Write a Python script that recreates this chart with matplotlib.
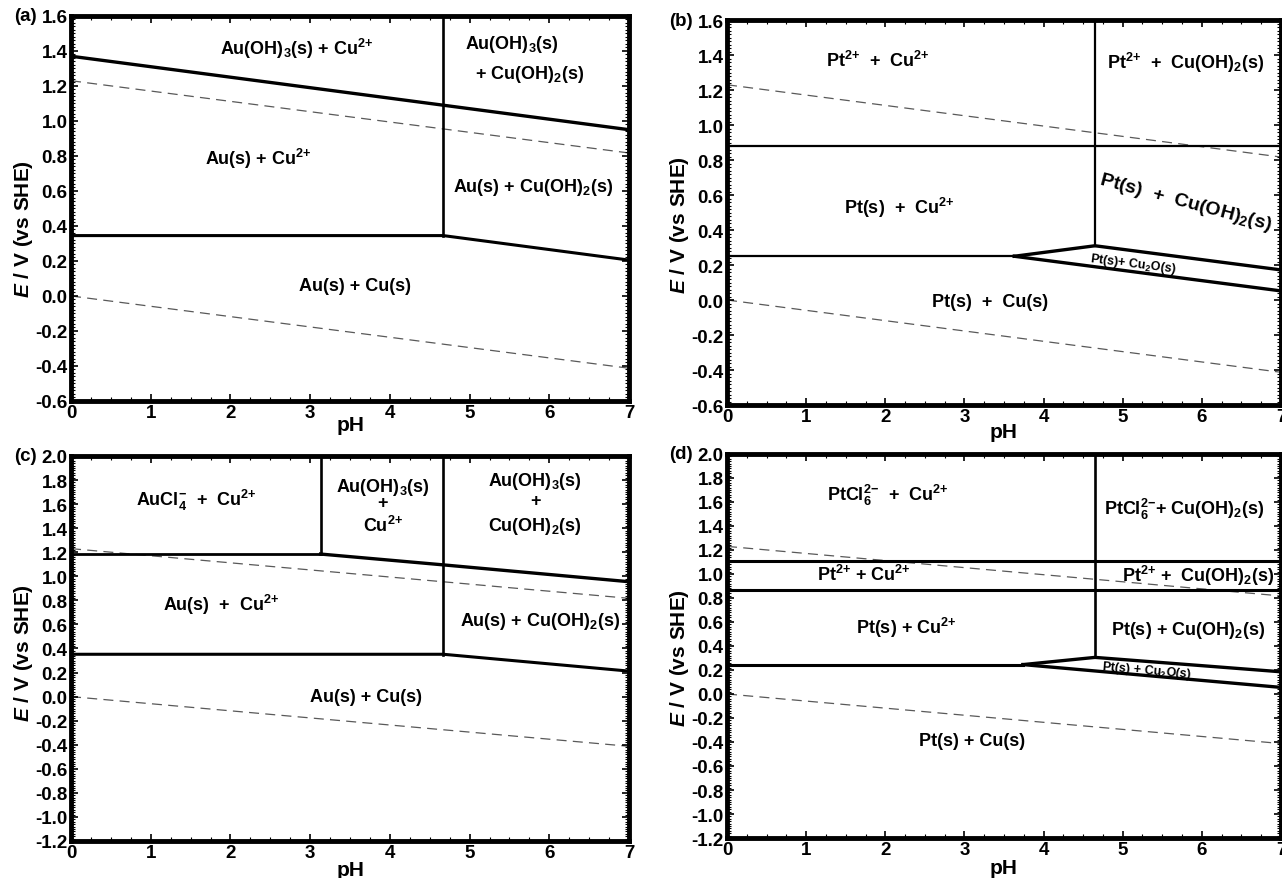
import matplotlib
matplotlib.use("Agg")
import matplotlib.pyplot as plt
from matplotlib.ticker import MultipleLocator, FormatStrFormatter

plt.rcParams["font.family"] = ["Liberation Sans", "DejaVu Sans"]
plt.rcParams["font.weight"] = "bold"
plt.rcParams["mathtext.fontset"] = "custom"
plt.rcParams["mathtext.rm"] = "Liberation Sans:bold"
plt.rcParams["mathtext.bf"] = "Liberation Sans:bold"
plt.rcParams["mathtext.it"] = "Liberation Sans:italic:bold"
plt.rcParams["mathtext.default"] = "rm"

# ---- water stability lines (shared) ----
water_ph = [0.0, 7.0]
water_upper_E = [1.23, 0.817]
water_lower_E = [0.0, -0.413]

# ---- (a) Au-Cu, no chloride ----
a_auoh3_ph = [0.0, 4.67, 7.0]
a_auoh3_E = [1.37, 1.09, 0.95]
a_cu_ph = [0.0, 4.67, 7.0]
a_cu_E = [0.345, 0.345, 0.205]
a_cuoh2_ph = [4.67, 4.67]
a_cuoh2_E = [0.345, 1.6]
a_labels = [
    (r"Au(OH)$_3$(s) + Cu$^{2{+}}$", 2.83, 1.42),
    (r"Au(OH)$_3$(s)", 5.53, 1.44),
    (r"+ Cu(OH)$_2$(s)", 5.75, 1.27),
    (r"Au(s) + Cu$^{2{+}}$", 2.35, 0.79),
    (r"Au(s) + Cu(OH)$_2$(s)", 5.80, 0.625),
    (r"Au(s) + Cu(s)", 3.56, 0.06),
]

# ---- (b) Pt-Cu, no chloride ----
b_pt2_ph = [0.0, 7.0]
b_pt2_E = [0.88, 0.88]
b_cuoh2_ph = [4.65, 4.65]
b_cuoh2_E = [0.31, 1.6]
b_cu_ph = [0.0, 3.63]
b_cu_E = [0.25, 0.25]
b_cu2o_top_ph = [3.63, 4.65, 7.0]
b_cu2o_top_E = [0.25, 0.31, 0.172]
b_cu2o_bot_ph = [3.63, 7.0]
b_cu2o_bot_E = [0.25, 0.052]
b_labels = [
    (r"Pt$^{2{+}}$  +  Cu$^{2{+}}$", 1.90, 1.37, 0, 13),
    (r"Pt$^{2{+}}$  +  Cu(OH)$_2$(s)", 5.79, 1.36, 0, 13),
    (r"Pt(s)  +  Cu$^{2{+}}$", 2.18, 0.53, 0, 13),
    (r"Pt(s)  +  Cu(OH)$_2$(s)", 5.80, 0.56, -15, 14),
    (r"Pt(s)+ Cu$_2$O(s)", 5.13, 0.21, -7, 9),
    (r"Pt(s)  +  Cu(s)", 3.32, -0.01, 0, 13),
]

# ---- (c) Au-Cu with chloride ----
c_aucl4_ph = [0.0, 3.13]
c_aucl4_E = [1.185, 1.185]
c_aucl4_v_ph = [3.13, 3.13]
c_aucl4_v_E = [1.185, 2.0]
c_auoh3_ph = [3.13, 4.67, 7.0]
c_auoh3_E = [1.185, 1.095, 0.955]
c_cuoh2_ph = [4.67, 4.67]
c_cuoh2_E = [0.35, 2.0]
c_cu_ph = [0.0, 4.67, 7.0]
c_cu_E = [0.352, 0.352, 0.212]
c_labels = [
    (r"AuCl$_4^{-}$  +  Cu$^{2{+}}$", 1.57, 1.64),
    (r"Au(OH)$_3$(s)", 3.91, 1.75),
    (r"+", 3.91, 1.61),
    (r"Cu$^{2{+}}$", 3.91, 1.43),
    (r"Au(OH)$_3$(s)", 5.82, 1.80),
    (r"+", 5.82, 1.63),
    (r"Cu(OH)$_2$(s)", 5.82, 1.42),
    (r"Au(s)  +  Cu$^{2{+}}$", 1.88, 0.77),
    (r"Au(s) + Cu(OH)$_2$(s)", 5.88, 0.63),
    (r"Au(s) + Cu(s)", 3.70, 0.0),
]

# ---- (d) Pt-Cu with chloride ----
d_ptcl6_ph = [0.0, 7.0]
d_ptcl6_E = [1.11, 1.11]
d_pt2_ph = [0.0, 7.0]
d_pt2_E = [0.87, 0.87]
d_cuoh2_ph = [4.65, 4.65]
d_cuoh2_E = [0.305, 2.0]
d_cu_ph = [0.0, 3.74]
d_cu_E = [0.245, 0.245]
d_cu2o_top_ph = [3.74, 4.65, 7.0]
d_cu2o_top_E = [0.245, 0.305, 0.185]
d_cu2o_bot_ph = [3.74, 7.0]
d_cu2o_bot_E = [0.245, 0.055]
d_labels = [
    (r"PtCl$_6^{2{-}}$  +  Cu$^{2{+}}$", 2.03, 1.66, 0, 13),
    (r"PtCl$_6^{2{-}}$+ Cu(OH)$_2$(s)", 5.78, 1.55, 0, 13),
    (r"Pt$^{2{+}}$ + Cu$^{2{+}}$", 1.73, 1.00, 0, 13),
    (r"Pt$^{2{+}}$ +  Cu(OH)$_2$(s)", 5.95, 0.99, 0, 13),
    (r"Pt(s) + Cu$^{2{+}}$", 2.26, 0.556, 0, 13),
    (r"Pt(s) + Cu(OH)$_2$(s)", 5.83, 0.54, 0, 13),
    (r"Pt(s) + Cu$_2$O(s)", 5.31, 0.20, -5, 9),
    (r"Pt(s) + Cu(s)", 3.10, -0.39, 0, 13),
]

TICK_FS = 13.5
LABEL_FS = 13
AXLABEL_FS = 15


def style_axes(ax, ymin, ymax, tag, ylab_y, xlab_y):
    ax.set_xlim(0, 7)
    ax.set_ylim(ymin, ymax)
    ax.xaxis.set_major_locator(MultipleLocator(1))
    ax.xaxis.set_minor_locator(MultipleLocator(0.25))
    ax.yaxis.set_major_locator(MultipleLocator(0.2))
    ax.yaxis.set_minor_locator(MultipleLocator(0.02))
    ax.yaxis.set_major_formatter(FormatStrFormatter("%.1f"))
    ax.tick_params(which="both", direction="in", top=True, right=True,
                   labelsize=TICK_FS)
    ax.tick_params(which="major", length=5, width=1.2, pad=2.5)
    ax.tick_params(which="minor", length=3, width=0.8)
    for lab in ax.get_xticklabels() + ax.get_yticklabels():
        lab.set_fontweight("bold")
    for sp in ax.spines.values():
        sp.set_linewidth(3.5)
    ax.set_xlabel("pH", fontsize=AXLABEL_FS, fontweight="bold", va="center")
    ax.xaxis.set_label_coords(0.5, xlab_y)
    ax.set_ylabel(r"$\mathit{E}$ / V (vs SHE)", fontsize=AXLABEL_FS,
                  fontweight="bold", va="center")
    ax.yaxis.set_label_coords(-0.086, ylab_y)
    ax.text(-0.062, 1.0, tag, transform=ax.transAxes, ha="right",
            va="center", fontsize=TICK_FS, fontweight="bold")
    ax.plot(water_ph, water_upper_E, color="0.35", lw=0.9,
            dashes=(8, 5), zorder=1)
    ax.plot(water_ph, water_lower_E, color="0.35", lw=0.9,
            dashes=(8, 5), zorder=1)


fig = plt.figure(figsize=(12.82, 8.79), dpi=100)
ax_a = fig.add_axes([0.0554, 0.5427, 0.4353, 0.4380])
ax_b = fig.add_axes([0.5671, 0.5381, 0.4321, 0.4380])
ax_c = fig.add_axes([0.0554, 0.0421, 0.4353, 0.4380])
ax_d = fig.add_axes([0.5671, 0.0455, 0.4321, 0.4369])

K = "black"

# (a)
style_axes(ax_a, -0.6, 1.6, "(a)", 0.45, -0.06)
ax_a.plot(a_auoh3_ph, a_auoh3_E, color=K, lw=2.4)
ax_a.plot(a_cu_ph, a_cu_E, color=K, lw=2.2)
ax_a.plot(a_cuoh2_ph, a_cuoh2_E, color=K, lw=1.9)
for s, x, y in a_labels:
    ax_a.text(x, y, s, ha="center", va="center", fontsize=LABEL_FS,
              fontweight="bold")

# (b)
style_axes(ax_b, -0.6, 1.6, "(b)", 0.47, -0.07)
ax_b.plot(b_pt2_ph, b_pt2_E, color=K, lw=1.6)
ax_b.plot(b_cuoh2_ph, b_cuoh2_E, color=K, lw=1.6)
ax_b.plot(b_cu_ph, b_cu_E, color=K, lw=1.6)
ax_b.plot(b_cu2o_top_ph, b_cu2o_top_E, color=K, lw=2.4)
ax_b.plot(b_cu2o_bot_ph, b_cu2o_bot_E, color=K, lw=2.4)
for s, x, y, rot, fs in b_labels:
    ax_b.text(x, y, s, ha="center", va="center", fontsize=fs,
              fontweight="bold", rotation=rot, rotation_mode="anchor")

# (c)
style_axes(ax_c, -1.2, 2.0, "(c)", 0.49, -0.073)
ax_c.plot(c_aucl4_ph, c_aucl4_E, color=K, lw=2.0)
ax_c.plot(c_aucl4_v_ph, c_aucl4_v_E, color=K, lw=1.9)
ax_c.plot(c_auoh3_ph, c_auoh3_E, color=K, lw=2.4)
ax_c.plot(c_cuoh2_ph, c_cuoh2_E, color=K, lw=1.9)
ax_c.plot(c_cu_ph, c_cu_E, color=K, lw=2.2)
for s, x, y in c_labels:
    ax_c.text(x, y, s, ha="center", va="center", fontsize=LABEL_FS,
              fontweight="bold")

# (d)
style_axes(ax_d, -1.2, 2.0, "(d)", 0.47, -0.076)
ax_d.plot(d_ptcl6_ph, d_ptcl6_E, color=K, lw=2.2)
ax_d.plot(d_pt2_ph, d_pt2_E, color=K, lw=2.2)
ax_d.plot(d_cuoh2_ph, d_cuoh2_E, color=K, lw=1.9)
ax_d.plot(d_cu_ph, d_cu_E, color=K, lw=2.2)
ax_d.plot(d_cu2o_top_ph, d_cu2o_top_E, color=K, lw=2.4)
ax_d.plot(d_cu2o_bot_ph, d_cu2o_bot_E, color=K, lw=2.4)
for s, x, y, rot, fs in d_labels:
    ax_d.text(x, y, s, ha="center", va="center", fontsize=fs,
              fontweight="bold", rotation=rot, rotation_mode="anchor")

fig.savefig("out.png", dpi=100)
